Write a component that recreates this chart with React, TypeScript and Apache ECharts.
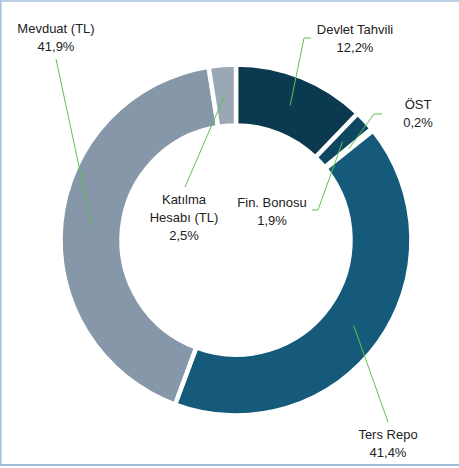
import React, { useEffect, useRef } from "react";
import * as echarts from "echarts";

const categories = ["Devlet Tahvili", "Fin. Bonosu", "ÖST", "Ters Repo", "Mevduat (TL)", "Katılma\nHesabı (TL)"];
const values = [12.2, 1.9, 0.2, 41.4, 41.9, 2.5];
const colors = ["#0b3a50", "#0e4762", "#0f4b68", "#155a7b", "#8597a8", "#9aa8b6"];

// label layout (positions only)
const labelPos: [number, number][] = [
  [355, 38],
  [272, 211],
  [418, 113],
  [388, 443],
  [56, 37],
  [184, 217],
];
const lineStart: [number, number][] = [
  [311, 38],
  [312, 210],
  [382, 114],
  [388, 422],
  [56, 59],
  [185, 187],
];
const lineElbow: ([number, number] | null)[] = [
  [304, 38],
  [318, 210],
  [374, 114],
  null,
  null,
  null,
];

const CX = 236;
const CY = 240;
const R_IN = 114.5;
const R_OUT = 175.5;
const R_MID = 145;

export default function App() {
  const ref = useRef<HTMLDivElement>(null);
  useEffect(() => {
    document.body.style.margin = "0";
    const chart = echarts.init(ref.current!, undefined, { renderer: "svg" });
    const total = values.reduce((a, b) => a + b, 0);
    let cum = 0;
    const lines: any[] = values.map((v, i) => {
      const mid = ((cum + v / 2) / total) * Math.PI * 2;
      cum += v;
      const end = [CX + R_MID * Math.sin(mid), CY - R_MID * Math.cos(mid)];
      const pts: number[][] = [lineStart[i]];
      if (lineElbow[i]) pts.push(lineElbow[i] as number[]);
      pts.push(end);
      return {
        type: "polyline",
        shape: { points: pts },
        style: { stroke: "#5cc34a", lineWidth: 1, fill: null },
        z: 100,
      };
    });
    const borderColor = "#a3bedd";
    chart.setOption({
      animation: false,
      graphic: [
        ...lines,
        { type: "line", shape: { x1: 0, y1: 1, x2: 459, y2: 1 }, style: { stroke: borderColor, lineWidth: 1.5 } },
        { type: "line", shape: { x1: 0.75, y1: 0, x2: 0.75, y2: 466 }, style: { stroke: borderColor, lineWidth: 1.5 } },
        { type: "line", shape: { x1: 0, y1: 465, x2: 459, y2: 465 }, style: { stroke: borderColor, lineWidth: 2 } },
      ],
      series: [
        {
          type: "pie",
          center: [CX, CY],
          radius: [R_IN, R_OUT],
          startAngle: 90,
          clockwise: true,
          avoidLabelOverlap: false,
          itemStyle: { borderColor: "#ffffff", borderWidth: 4.5 },
          emphasis: { disabled: true },
          label: {
            show: true,
            position: "outside",
            fontFamily: "Liberation Sans",
            fontSize: 13,
            lineHeight: 18,
            color: "#222222",
            align: "center",
            formatter: (p: any) => p.name + "\n" + p.value.toFixed(1).replace(".", ",") + "%",
          },
          labelLine: { show: false },
          labelLayout: (p: any) => ({
            x: labelPos[p.dataIndex][0],
            y: labelPos[p.dataIndex][1],
            align: "center",
            verticalAlign: "middle",
          }),
          data: categories.map((c, i) => ({ name: c, value: values[i], itemStyle: { color: colors[i] } })),
        },
      ],
    });
    return () => chart.dispose();
  }, []);
  return <div ref={ref} style={{ width: 459, height: 468 }} />;
}
